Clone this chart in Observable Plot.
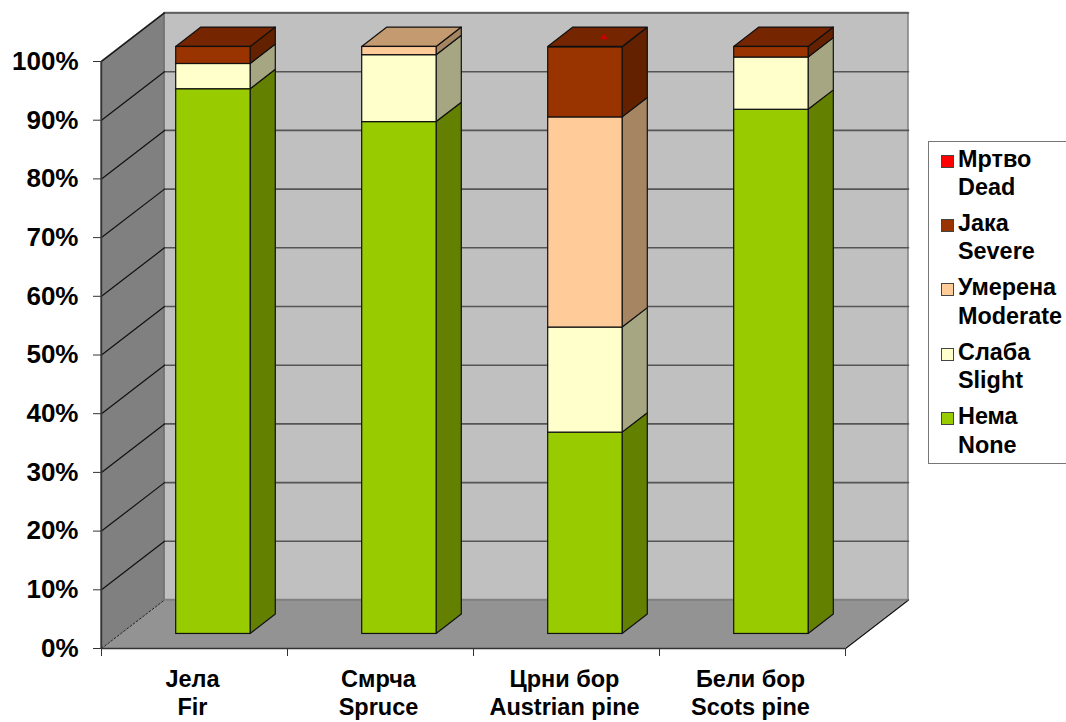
<!DOCTYPE html>
<html>
<head>
<meta charset="utf-8">
<script src="https://cdn.jsdelivr.net/npm/d3@7"></script>
<script src="https://cdn.jsdelivr.net/npm/@observablehq/plot@0.6"></script>
<style>
  html, body { margin: 0; background: #fff; }
  #chart { position: relative; width: 1066px; height: 722px; overflow: hidden; }
  .legend { position: absolute; left: 928px; top: 141px; width: 142px; height: 323px; box-sizing: border-box;
            border: 1px solid #777; background: #fff; font: bold 23.4px/28.5px "Liberation Sans", Arial, sans-serif;
            color: #000; }
  .legend .row { position: absolute; left: 29px; white-space: pre; }
  .legend .swatch { position: absolute; left: -17px; top: 10px; width: 11px; height: 11px; border: 1px solid #444; }
</style>
</head>
<body>
<div id="chart"></div>
<script>
// Crown damage by tree species, share of trees per class (%)
const species = ["Јела\nFir", "Смрча\nSpruce", "Црни бор\nAustrian pine", "Бели бор\nScots pine"];
const none = [92.8, 87.2, 34.3, 89.3];
const slight = [4.3, 11.4, 17.9, 8.9];
const moderate = [0, 1.4, 35.8, 0];
const severe = [2.9, 0, 11.9, 1.8];
const dead = [0, 0, 0.1, 0];
const yTicks = [0, 10, 20, 30, 40, 50, 60, 70, 80, 90, 100];

const classes = [
  {values: none, label: "Нема\nNone", front: "#99cc00", side: "#648000", top: "#7a9f00"},
  {values: slight, label: "Слаба\nSlight", front: "#ffffcc", side: "#a6a683", top: "#c4c49e"},
  {values: moderate, label: "Умерена\nModerate", front: "#ffcc99", side: "#a68563", top: "#c49a70"},
  {values: severe, label: "Јака\nSevere", front: "#993300", side: "#632100", top: "#752600"},
  {values: dead, label: "Мртво\nDead", front: "#ff0000", side: "#a60000", top: "#cc0000"}
];

// Oblique projection: depth 0..1 shifts a point to the right and upward in data units
const depthX = 63 / 186;
const depthY = 8.26;
const px = (x, z) => x + z * depthX;
const py = (y, z) => y + z * depthY;

// Each bar sits in the middle of its category slot, both across and in depth
const barStart = 0.3, barWidth = 0.4, zFront = 0.3, zBack = 0.7;

const fronts = [], sides = [], tops = [];
species.forEach((name, i) => {
  const x0 = px(i + barStart, zFront), x1 = x0 + barWidth;
  const xb = px(i + barStart + barWidth, zBack);
  let base = 0;
  let topClass = null;
  classes.slice(0, 4).forEach((c) => {
    const v = c.values[i];
    if (v <= 0) return;
    const y0 = py(base, zFront), y1 = py(base + v, zFront);
    fronts.push({x1: x0, x2: x1, y1: y0, y2: y1, fill: c.front});
    const id = `${i}-${c.label}`;
    sides.push({id, x: x1, y1: y0, y2: y1, fill: c.side});
    sides.push({id, x: xb, y1: py(base, zBack), y2: py(base + v, zBack), fill: c.side});
    base += v;
    topClass = c;
  });
  const h = base + dead[i];
  tops.push({id: i, x1: x0, x2: x1, y: py(h, zFront), fill: topClass.top});
  tops.push({id: i, x1: px(i + barStart, zBack), x2: xb, y: py(h, zBack), fill: topClass.top});
});

// The dead class is so small it only shows as a fleck on the top face
const deadFlecks = dead.flatMap((v, i) => v > 0
  ? [{x: px(i + 0.5, 0.5) , y: py(100, 0.5)}] : []);

const leftWall = [
  {x: px(0, 0), y1: py(0, 0), y2: py(100, 0)},
  {x: px(0, 1), y1: py(0, 1), y2: py(100, 1)}
];
const backWall = [
  {x1: px(0, 1), x2: px(4, 1), y: py(0, 1)},
  {x1: px(0, 1), x2: px(4, 1), y: py(100, 1)}
];
const floor = [
  {x1: px(0, 0), x2: px(4, 0), y: py(0, 0)},
  {x1: px(0, 1), x2: px(4, 1), y: py(0, 1)}
];
const backGrid = yTicks.slice(1).flatMap((t) => [
  {t, x: px(0, 1), y: py(t, 1)}, {t, x: px(4, 1), y: py(t, 1)}
]);
const sideGrid = yTicks.slice(1).flatMap((t) => [
  {t, x: px(0, 0), y: py(t, 0)}, {t, x: px(0, 1), y: py(t, 1)}
]);
const floorLeft = [{x: px(0, 0), y: 0}, {x: px(0, 1), y: py(0, 1)}];
const floorRight = [{x: px(4, 0), y: 0}, {x: px(4, 1), y: py(0, 1)}];
const speciesLabels = species.map((label, i) => ({x: i + 0.5, label}));

const font = '"Liberation Sans", Arial, sans-serif';
const plot = Plot.plot({
  width: 1066,
  height: 722,
  marginLeft: 101,
  marginRight: 221,
  marginTop: 61,
  marginBottom: 74,
  style: {background: "#fff", fontFamily: font, color: "#000"},
  x: {domain: [0, 4], axis: null},
  y: {domain: [0, 100], axis: null},
  marks: [
    Plot.area(backWall, {x1: "x1", x2: "x2", y1: "y", fill: "#c0c0c0", stroke: "#808080", strokeWidth: 1.5}),
    Plot.area(leftWall, {x1: "x", y1: "y1", y2: "y2", fill: "#808080", stroke: "#666", strokeWidth: 1}),
    Plot.line(backGrid, {x: "x", y: "y", z: "t", stroke: "#555", strokeWidth: 1.6}),
    Plot.line(sideGrid, {x: "x", y: "y", z: "t", stroke: "#111", strokeWidth: 1.2}),
    Plot.area(floor, {x1: "x1", x2: "x2", y1: "y", fill: "#939393"}),
    Plot.line(floorLeft, {x: "x", y: "y", stroke: "#222", strokeWidth: 1, strokeDasharray: "2,2"}),
    Plot.line(floorRight, {x: "x", y: "y", stroke: "#111", strokeWidth: 1.4}),
    Plot.line([{x: px(0, 1), y: py(0, 1)}, {x: px(4, 1), y: py(0, 1)}], {x: "x", y: "y", stroke: "#777", strokeWidth: 1}),
    Plot.area(sides, {x1: "x", y1: "y1", y2: "y2", z: "id", fill: "fill", stroke: "#111", strokeWidth: 1.2}),
    Plot.area(tops, {x1: "x1", x2: "x2", y1: "y", z: "id", fill: "fill", stroke: "#111", strokeWidth: 1.2}),
    Plot.rect(fronts, {x1: "x1", x2: "x2", y1: "y1", y2: "y2", fill: "fill", stroke: "#111", strokeWidth: 1.2}),
    Plot.dot(deadFlecks, {x: "x", y: "y", symbol: "triangle", r: 2.6, fill: "#cc0000", dx: 6}),
    Plot.ruleY([0], {x1: 0, x2: 4, stroke: "#333", strokeWidth: 1.4}),
    Plot.ruleX([0], {y1: 0, y2: 100, stroke: "#333", strokeWidth: 1.4}),
    Plot.axisY({
      ticks: yTicks, tickSize: 8, tickPadding: 15, label: null, fontSize: 26, fontWeight: "bold",
      tickFormat: (d) => `${d}%`, stroke: "#333", fill: "#000"
    }),
    Plot.axisX({
      ticks: [0, 1, 2, 3, 4], tickSize: 8, tickFormat: () => "", label: null, stroke: "#333"
    }),
    Plot.text(speciesLabels, {
      x: "x", y: 0, text: "label", dx: -2, dy: 19, lineAnchor: "top", lineHeight: 1.19,
      fontSize: 23.5, fontWeight: "bold", fill: "#000", textAnchor: "middle"
    })
  ]
});

const chart = document.getElementById("chart");
chart.appendChild(plot);

// Legend box to the right of the plot, worst class first
const legend = document.createElement("div");
legend.className = "legend";
classes.slice().reverse().forEach((c, i) => {
  const row = document.createElement("div");
  row.className = "row";
  row.style.top = `${2.5 + i * 64.4}px`;
  const swatch = document.createElement("span");
  swatch.className = "swatch";
  swatch.style.background = c.front;
  row.appendChild(swatch);
  row.appendChild(document.createTextNode(c.label));
  legend.appendChild(row);
});
chart.appendChild(legend);
</script>
</body>
</html>
